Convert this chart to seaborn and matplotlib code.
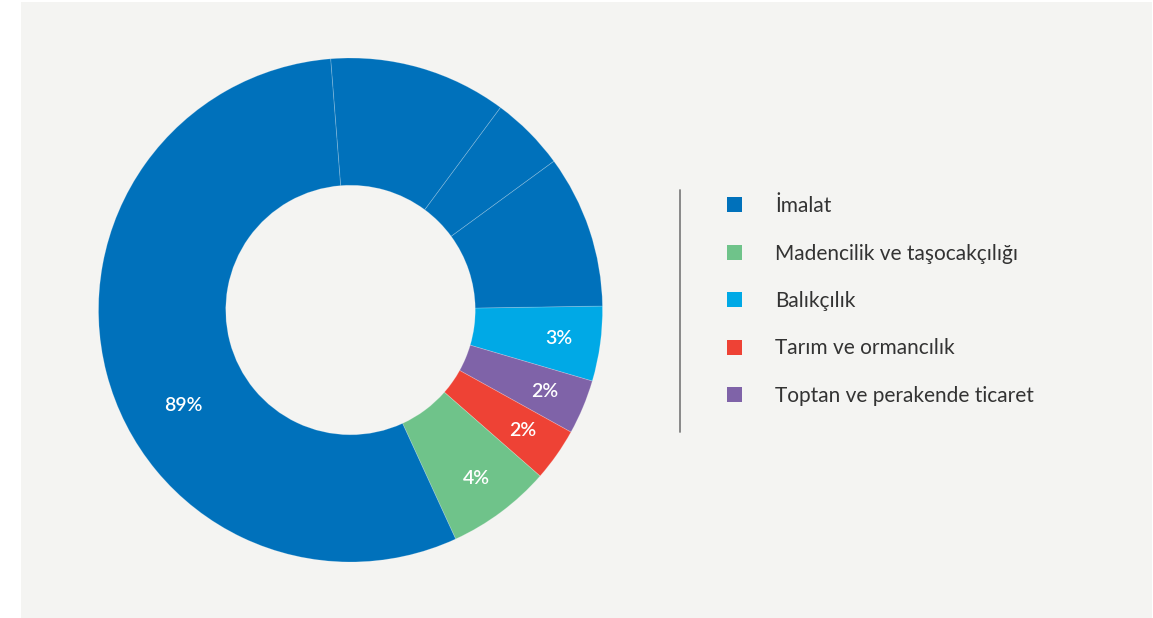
import numpy as np
import matplotlib.pyplot as plt
import seaborn as sns
from matplotlib.patches import Patch, Rectangle
from matplotlib.lines import Line2D

sns.set_style("white")
plt.rcParams['font.family'] = ['Lato', 'DejaVu Sans']

# legend order
categories = ["İmalat", "Madencilik ve taşocakçılığı", "Balıkçılık",
              "Tarım ve ormancılık", "Toptan ve perakende ticaret"]
colors = ["#0071bb", "#6fc38a", "#00a9e6", "#ee4235", "#7f63a8"]

# slice shares as drawn (clockwise from 3 o'clock)
pie_order = ["Balıkçılık", "Toptan ve perakende ticaret", "Tarım ve ormancılık",
             "Madencilik ve taşocakçılığı", "İmalat", "İmalat", "İmalat", "İmalat"]
pie_shares = [4.8, 3.5, 3.4, 6.7, 55.6, 11.4, 4.8, 9.8]
pie_labels = ["3%", "2%", "2%", "4%", "89%", "", "", ""]

color_map = dict(zip(categories, colors))

fig = plt.figure(figsize=(11.53, 6.18), dpi=100, facecolor="white")
W, H = 1153, 618
fig.add_artist(Rectangle((21 / W, 0), (1152 - 21) / W, (616) / H,
                         transform=fig.transFigure, facecolor="#f4f4f2",
                         edgecolor="none", zorder=0))

ax = fig.add_axes([98.5 / W, (H - 562) / H, 504 / W, 504 / H])
ax.set_facecolor("none")
wedges, _, autotexts = ax.pie(
    pie_shares, colors=[color_map[c] for c in pie_order], startangle=0.9,
    counterclock=False, radius=1, autopct=lambda p: "", pctdistance=0.835,
    wedgeprops=dict(width=0.505, edgecolor=(1, 1, 1, 0.22), linewidth=0.6))
for t, lab in zip(autotexts, pie_labels):
    t.set_text(lab)
    t.set_color("white")
    t.set_fontsize(14)
    t.set_fontweight("semibold")
# the big label sits off the sub-slice middle
ang = np.deg2rad(209.6)
autotexts[4].set_position((0.765 * np.cos(ang), 0.765 * np.sin(ang)))
ax.set_xlim(-1, 1)
ax.set_ylim(-1, 1)
ax.set_aspect("equal")
ax.axis("off")

# divider line
fig.add_artist(Line2D([680 / W, 680 / W], [1 - 190 / H, 1 - 432 / H],
                      transform=fig.transFigure, color="#808080", linewidth=1.3))

handles = [Patch(facecolor=c, edgecolor="none") for c in colors]
fig.legend(handles, categories, loc="upper left",
           bbox_to_anchor=(727 / W, 1 - 196 / H), frameon=False,
           fontsize=15, handlelength=0.72, handleheight=0.72,
           handletextpad=1.58, labelspacing=1.32, borderpad=0,
           borderaxespad=0, labelcolor="#333333")

fig.savefig("out.png", dpi=100, facecolor="white")
